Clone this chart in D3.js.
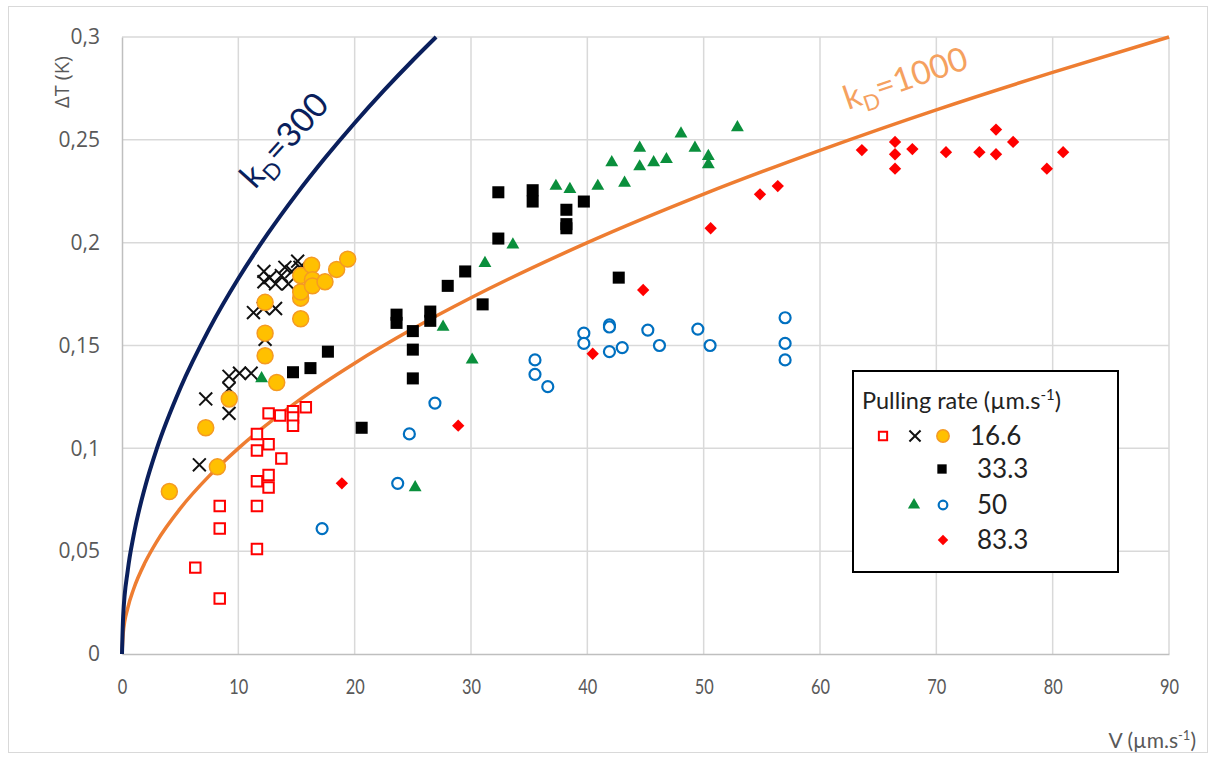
<!DOCTYPE html>
<html>
<head>
<meta charset="utf-8">
<script src="https://cdn.jsdelivr.net/npm/d3@7"></script>
<style>
  body { margin: 0; background: #fff; }
  svg { display: block; font-family: Lato, "Open Sans", sans-serif; }
  .tick text { fill: #595959; }
</style>
</head>
<body>
<div class="mainview"></div>
<script>

// Data ////////////////////////////////////

const xTicks = [0, 10, 20, 30, 40, 50, 60, 70, 80, 90];
const yTicks = [0, 0.05, 0.1, 0.15, 0.2, 0.25, 0.3];

// 16.6 µm/s
const squares16V = [12.6, 13.6, 14.7, 14.7, 14.7, 15.8, 11.6, 12.6, 11.6, 13.7, 11.6, 12.6, 12.6, 8.4, 11.6, 8.4, 11.6, 6.3, 8.4];
const squares16T = [0.117, 0.116, 0.118, 0.115, 0.111, 0.120, 0.107, 0.102, 0.099, 0.095, 0.084, 0.087, 0.081, 0.072, 0.072, 0.061, 0.051, 0.042, 0.027];

const crosses16V = [6.65, 7.2, 9.2, 9.2, 9.2, 10.1, 11.1, 12.3, 11.3, 12.15, 13.2, 12.2, 12.2, 12.7, 13.2, 13.7, 14.0, 14.3, 14.6, 15.1, 15.3];
const crosses16T = [0.092, 0.124, 0.117, 0.129, 0.135, 0.1365, 0.1365, 0.153, 0.166, 0.168, 0.168, 0.186, 0.181, 0.183, 0.180, 0.184, 0.188, 0.180, 0.186, 0.191, 0.188];

const circles16V = [4.07, 7.2, 8.2, 9.22, 13.3, 12.3, 12.3, 12.3, 15.36, 15.36, 15.36, 15.36, 16.3, 16.37, 16.37, 17.45, 18.45, 19.4];
const circles16T = [0.079, 0.110, 0.091, 0.124, 0.132, 0.145, 0.156, 0.171, 0.163, 0.173, 0.176, 0.184, 0.189, 0.182, 0.179, 0.181, 0.187, 0.192];

// 33.3 µm/s
const squares33V = [14.7, 16.2, 17.7, 20.6, 23.6, 23.6, 25.0, 25.0, 25.0, 26.5, 26.5, 28.0, 29.5, 31.0, 32.35, 32.35, 35.3, 35.3, 38.2, 38.2, 38.2, 39.7, 42.7];
const squares33T = [0.137, 0.139, 0.147, 0.110, 0.165, 0.161, 0.157, 0.148, 0.134, 0.1665, 0.162, 0.179, 0.186, 0.170, 0.202, 0.2245, 0.2255, 0.220, 0.216, 0.209, 0.207, 0.220, 0.183];

// 50 µm/s
const triangles50V = [12.0, 25.2, 27.6, 30.1, 31.2, 33.6, 37.3, 38.5, 40.9, 42.1, 43.2, 44.5, 44.5, 45.7, 46.8, 48.05, 49.25, 50.4, 50.4, 52.9];
const triangles50T = [0.134, 0.081, 0.159, 0.143, 0.190, 0.199, 0.2275, 0.226, 0.2275, 0.239, 0.229, 0.246, 0.237, 0.239, 0.2405, 0.253, 0.246, 0.242, 0.238, 0.256];

const rings50V = [17.2, 23.7, 24.7, 26.9, 35.5, 35.5, 36.6, 39.7, 39.7, 41.9, 41.9, 41.9, 43.0, 45.2, 46.2, 49.5, 50.55, 57.0, 57.0, 57.0];
const rings50T = [0.061, 0.083, 0.107, 0.122, 0.143, 0.136, 0.130, 0.156, 0.151, 0.160, 0.159, 0.147, 0.149, 0.1575, 0.150, 0.158, 0.150, 0.1635, 0.151, 0.143];

// 83.3 µm/s
const diamonds83V = [18.9, 28.9, 40.46, 44.8, 50.6, 54.84, 56.37, 63.6, 66.45, 66.45, 66.45, 67.94, 70.83, 73.7, 75.13, 75.13, 76.6, 79.5, 80.9];
const diamonds83T = [0.083, 0.111, 0.146, 0.177, 0.207, 0.2235, 0.2275, 0.245, 0.249, 0.243, 0.236, 0.2455, 0.244, 0.244, 0.255, 0.243, 0.249, 0.236, 0.244];

// model curves kD = 300 and kD = 1000
const curve300V = [0, 0.1, 0.5, 1, 2, 3, 5, 7.5, 10, 12.5, 15, 17.5, 20, 22.5, 25, 27];
const curve300T = [0, 0.0183, 0.0408, 0.0577, 0.0816, 0.1, 0.1291, 0.1581, 0.1826, 0.2041, 0.2236, 0.2415, 0.2582, 0.2739, 0.2887, 0.3];
const curve1000V = [0, 0.1, 0.5, 1, 2, 3, 5, 7.5, 10, 15, 20, 25, 30, 40, 50, 60, 70, 80, 90];
const curve1000T = [0, 0.01, 0.0224, 0.0316, 0.0447, 0.0548, 0.0707, 0.0866, 0.1, 0.1225, 0.1414, 0.1581, 0.1732, 0.2, 0.2236, 0.2449, 0.2646, 0.2828, 0.3];

const legendRates = ["16.6", "33.3", "50", "83.3"];

// Layout ////////////////////////////////////

const dim = { width: 1215, height: 759 };
const plot = { left: 122, right: 1169, top: 37, bottom: 654 };

const colors = {
    red: "#ff0000",
    orangeFill: "#ffc000",
    orangeStroke: "#f59a23",
    green: "#0a8f3c",
    blue: "#0070c0",
    navy: "#0a1f5c",
    orangeLine: "#ee7d31",
    orangeText: "#f5a15f",
    grid: "#d9d9d9",
    axisText: "#595959"
};

const x = d3.scaleLinear().domain([0, 90]).range([plot.left, plot.right]);
const y = d3.scaleLinear().domain([0, 0.3]).range([plot.bottom, plot.top]);

const svg = d3.select(".mainview").append("svg")
    .attr("width", dim.width)
    .attr("height", dim.height);

svg.append("rect")
    .attr("x", 8.5).attr("y", 6.5)
    .attr("width", 1199).attr("height", 746)
    .attr("fill", "#fff")
    .attr("stroke", colors.grid);

// Grid ////////////////////////////////////

svg.append("g")
    .selectAll("line")
    .data(xTicks.slice(1))
    .join("line")
    .attr("x1", d => x(d)).attr("x2", d => x(d))
    .attr("y1", plot.top).attr("y2", plot.bottom)
    .attr("stroke", colors.grid).attr("stroke-width", 1.5);

svg.append("g")
    .selectAll("line")
    .data(yTicks.slice(1))
    .join("line")
    .attr("x1", plot.left).attr("x2", plot.right)
    .attr("y1", d => y(d)).attr("y2", d => y(d))
    .attr("stroke", colors.grid).attr("stroke-width", 1.5);

// Axes ////////////////////////////////////

const fmt = d => String(+d.toFixed(2)).replace(".", ",");

const xAxis = d3.axisBottom(x)
    .tickValues(xTicks)
    .tickSize(0)
    .tickPadding(25);

svg.append("g")
    .attr("transform", `translate(0, ${plot.bottom})`)
    .call(xAxis)
    .call(g => g.select(".domain").attr("stroke", "#bfbfbf").attr("stroke-width", 1.5))
    .call(g => g.selectAll(".tick text")
        .attr("font-size", 21)
        .attr("font-family", "Lato, sans-serif")
        .attr("transform", "scale(0.78, 1)"));

const yAxis = d3.axisLeft(y)
    .tickValues(yTicks)
    .tickFormat(fmt)
    .tickSize(0)
    .tickPadding(22);

svg.append("g")
    .attr("transform", `translate(${plot.left}, 0)`)
    .call(yAxis)
    .call(g => g.select(".domain").attr("stroke", "#bfbfbf").attr("stroke-width", 1.5))
    .call(g => g.selectAll(".tick text")
        .attr("font-size", 21)
        .attr("font-family", "'Open Sans', sans-serif"));

svg.append("text")
    .attr("transform", "translate(69, 82) rotate(-90)")
    .attr("text-anchor", "middle")
    .attr("fill", colors.axisText)
    .attr("font-size", 20)
    .attr("font-family", "'Open Sans', sans-serif")
    .text("ΔT (K)");

const xTitle = svg.append("text")
    .attr("x", 1196).attr("y", 748)
    .attr("text-anchor", "end")
    .attr("fill", colors.axisText)
    .attr("font-size", 21)
    .attr("font-family", "Lato, sans-serif");
xTitle.append("tspan").text("V (µm.s");
xTitle.append("tspan").attr("font-size", 13).attr("dy", -8).text("-1");
xTitle.append("tspan").attr("dy", 8).text(")");

// Curves ////////////////////////////////////

const line = d3.line()
    .curve(d3.curveMonotoneX)
    .x(d => x(d[0]))
    .y(d => y(d[1]));

svg.append("path")
    .datum(d3.zip(curve1000V, curve1000T))
    .attr("d", line)
    .attr("fill", "none")
    .attr("stroke", colors.orangeLine)
    .attr("stroke-width", 3.5);

svg.append("path")
    .datum(d3.zip(curve300V, curve300T))
    .attr("d", line)
    .attr("fill", "none")
    .attr("stroke", colors.navy)
    .attr("stroke-width", 4);

function kdLabel(value, tx, ty, angle, color, size) {
    const t = svg.append("text")
        .attr("transform", `translate(${tx}, ${ty}) rotate(${angle})`)
        .attr("fill", color)
        .attr("font-size", size)
        .attr("font-family", "Lato, sans-serif");
    t.append("tspan").text("k");
    t.append("tspan").attr("font-size", size * 0.66).attr("dy", size * 0.24).text("D");
    t.append("tspan").attr("dy", -size * 0.24).text("=" + value);
}

kdLabel("300", 255, 190, -48, colors.navy, 34);
kdLabel("1000", 848, 110, -19, colors.orangeText, 33);

// Markers ////////////////////////////////////

const shapes = {
    openSquare: d3.symbol(d3.symbolSquare, 110),
    cross: d3.symbol(d3.symbolTimes, 110),
    circle: d3.symbol(d3.symbolCircle, 200),
    square: d3.symbol(d3.symbolSquare, 145),
    triangle: d3.symbol(d3.symbolTriangle, 72),
    ring: d3.symbol(d3.symbolCircle, 95),
    diamond: d3.symbol(d3.symbolSquare, 76)
};

const styles = {
    openSquare: { fill: "#fff", stroke: colors.red, width: 2 },
    cross: { fill: "none", stroke: "#111", width: 2 },
    circle: { fill: colors.orangeFill, stroke: colors.orangeStroke, width: 1.5 },
    square: { fill: "#000", stroke: "none", width: 0 },
    triangle: { fill: colors.green, stroke: "none", width: 0 },
    ring: { fill: "#fff", stroke: colors.blue, width: 2.2 },
    diamond: { fill: colors.red, stroke: "none", width: 0 }
};

function marker(sel, kind) {
    const s = styles[kind];
    sel.attr("d", shapes[kind])
        .attr("fill", s.fill)
        .attr("stroke", s.stroke)
        .attr("stroke-width", s.width);
    if (kind === "diamond") {
        sel.attr("transform", d => `translate(${d[0]}, ${d[1]}) rotate(45)`);
    } else {
        sel.attr("transform", d => `translate(${d[0]}, ${d[1]})`);
    }
}

function drawSeries(V, T, kind) {
    svg.append("g")
        .selectAll("path")
        .data(d3.zip(V, T).map(([v, t]) => [x(v), y(t)]))
        .join("path")
        .call(marker, kind);
}

drawSeries(squares16V, squares16T, "openSquare");
drawSeries(crosses16V, crosses16T, "cross");
drawSeries(circles16V, circles16T, "circle");
drawSeries(squares33V, squares33T, "square");
drawSeries(triangles50V, triangles50T, "triangle");
drawSeries(rings50V, rings50T, "ring");
drawSeries(diamonds83V, diamonds83T, "diamond");

// Legend ////////////////////////////////////

const legend = svg.append("g");

legend.append("rect")
    .attr("x", 853).attr("y", 371)
    .attr("width", 265).attr("height", 201)
    .attr("fill", "#fff")
    .attr("stroke", "#000")
    .attr("stroke-width", 2);

const title = legend.append("text")
    .attr("x", 862).attr("y", 409)
    .attr("font-size", 23.5)
    .attr("fill", "#222");
title.append("tspan").text("Pulling rate (µm.s");
title.append("tspan").attr("font-size", 15).attr("dy", -9).text("-1");
title.append("tspan").attr("dy", 9).text(")");

const legendRows = [
    { kinds: [["openSquare", 883], ["cross", 915], ["circle", 943]], y: 436, tx: 970 },
    { kinds: [["square", 942]], y: 469, tx: 977 },
    { kinds: [["triangle", 914], ["ring", 943]], y: 505, tx: 977 },
    { kinds: [["diamond", 943]], y: 540, tx: 977 }
];

const legendScale = { openSquare: 0.62, cross: 0.75, circle: 0.6, square: 0.6, triangle: 0.9, ring: 0.62, diamond: 0.72 };

legendRows.forEach((row, i) => {
    row.kinds.forEach(([kind, lx]) => {
        const s = styles[kind];
        legend.append("path")
            .attr("d", d3.symbol(shapes[kind].type(), shapes[kind].size()() * legendScale[kind]))
            .attr("fill", s.fill)
            .attr("stroke", s.stroke)
            .attr("stroke-width", s.width)
            .attr("transform", `translate(${lx}, ${row.y})` + (kind === "diamond" ? " rotate(45)" : ""));
    });
    legend.append("text")
        .attr("x", row.tx).attr("y", row.y + 9)
        .attr("font-size", 26)
        .attr("fill", "#222")
        .text(legendRates[i]);
});

</script>
</body>
</html>
